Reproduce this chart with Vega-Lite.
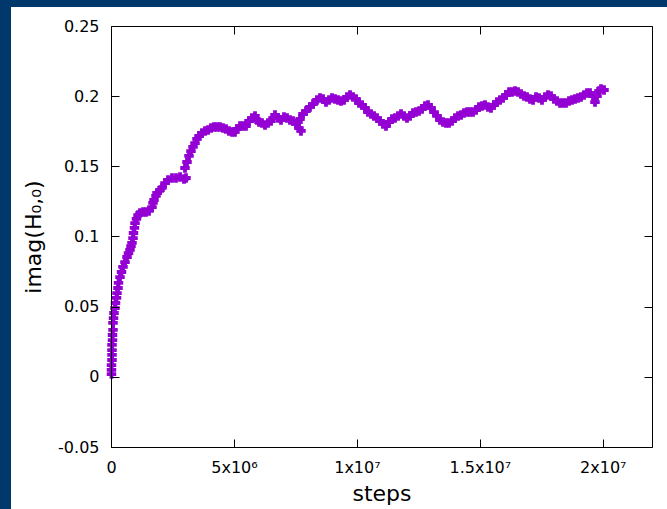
{
  "$schema": "https://vega.github.io/schema/vega-lite/v6.json",
  "width": 541,
  "height": 421,
  "autosize": {"type": "none"},
  "padding": {"left": 111, "top": 26, "right": 15, "bottom": 62},
  "background": "#00386b",
  "config": {
    "view": {"stroke": null},
    "axis": {
      "zindex": 1,
      "grid": false,
      "labelFlush": false,
      "domainColor": "black",
      "domainWidth": 1,
      "tickColor": "black",
      "tickWidth": 1,
      "tickSize": -8,
      "labelColor": "black",
      "titleColor": "black",
      "labelFont": "DejaVu Sans",
      "titleFont": "DejaVu Sans",
      "labelFontSize": 16,
      "titleFontSize": 22,
      "titleFontWeight": "normal"
    }
  },
  "data": {
    "values": [
      {"s": 20000, "v": 0.0020}, {"s": 20000, "v": 0.0049}, {"s": 20000, "v": 0.0084},
      {"s": 41000, "v": 0.0120}, {"s": 41000, "v": 0.0156}, {"s": 41000, "v": 0.0191},
      {"s": 41000, "v": 0.0227}, {"s": 61000, "v": 0.0262}, {"s": 61000, "v": 0.0298},
      {"s": 81000, "v": 0.0334}, {"s": 81000, "v": 0.0384}, {"s": 102000, "v": 0.0419},
      {"s": 122000, "v": 0.0455}, {"s": 163000, "v": 0.0490}, {"s": 183000, "v": 0.0526},
      {"s": 224000, "v": 0.0562}, {"s": 244000, "v": 0.0597}, {"s": 285000, "v": 0.0633},
      {"s": 305000, "v": 0.0669}, {"s": 366000, "v": 0.0711}, {"s": 427000, "v": 0.0747},
      {"s": 488000, "v": 0.0783}, {"s": 569000, "v": 0.0818}, {"s": 651000, "v": 0.0854},
      {"s": 712000, "v": 0.0882}, {"s": 773000, "v": 0.0904}, {"s": 813000, "v": 0.0932},
      {"s": 854000, "v": 0.0954}, {"s": 895000, "v": 0.0989}, {"s": 915000, "v": 0.1025},
      {"s": 956000, "v": 0.1061}, {"s": 976000, "v": 0.1096}, {"s": 1037000, "v": 0.1125},
      {"s": 1098000, "v": 0.1153}, {"s": 1179000, "v": 0.1167}, {"s": 1301000, "v": 0.1175},
      {"s": 1423000, "v": 0.1175}, {"s": 1545000, "v": 0.1182}, {"s": 1667000, "v": 0.1210},
      {"s": 1708000, "v": 0.1239}, {"s": 1749000, "v": 0.1260}, {"s": 1830000, "v": 0.1289},
      {"s": 1871000, "v": 0.1310}, {"s": 1993000, "v": 0.1331}, {"s": 2074000, "v": 0.1346},
      {"s": 2196000, "v": 0.1381}, {"s": 2318000, "v": 0.1403}, {"s": 2481000, "v": 0.1417},
      {"s": 2643000, "v": 0.1417}, {"s": 2806000, "v": 0.1424}, {"s": 2969000, "v": 0.1410},
      {"s": 3050000, "v": 0.1417}, {"s": 3009000, "v": 0.1488}, {"s": 3091000, "v": 0.1531},
      {"s": 3172000, "v": 0.1574}, {"s": 3253000, "v": 0.1609}, {"s": 3335000, "v": 0.1638},
      {"s": 3416000, "v": 0.1666}, {"s": 3497000, "v": 0.1695}, {"s": 3579000, "v": 0.1716},
      {"s": 3701000, "v": 0.1738}, {"s": 3823000, "v": 0.1752}, {"s": 3945000, "v": 0.1759},
      {"s": 4067000, "v": 0.1773}, {"s": 4188000, "v": 0.1780}, {"s": 4310000, "v": 0.1780},
      {"s": 4432000, "v": 0.1780}, {"s": 4554000, "v": 0.1773}, {"s": 4676000, "v": 0.1766},
      {"s": 4798000, "v": 0.1752}, {"s": 4920000, "v": 0.1745}, {"s": 5042000, "v": 0.1745},
      {"s": 5124000, "v": 0.1766}, {"s": 5246000, "v": 0.1787}, {"s": 5368000, "v": 0.1787},
      {"s": 5490000, "v": 0.1787}, {"s": 5612000, "v": 0.1823}, {"s": 5734000, "v": 0.1844},
      {"s": 5856000, "v": 0.1859}, {"s": 5937000, "v": 0.1830}, {"s": 6018000, "v": 0.1816},
      {"s": 6140000, "v": 0.1809}, {"s": 6262000, "v": 0.1795}, {"s": 6384000, "v": 0.1809},
      {"s": 6506000, "v": 0.1823}, {"s": 6588000, "v": 0.1844}, {"s": 6669000, "v": 0.1866},
      {"s": 6791000, "v": 0.1844}, {"s": 6913000, "v": 0.1830}, {"s": 7035000, "v": 0.1851},
      {"s": 7157000, "v": 0.1844}, {"s": 7279000, "v": 0.1830}, {"s": 7401000, "v": 0.1823},
      {"s": 7523000, "v": 0.1802}, {"s": 7645000, "v": 0.1773}, {"s": 7726000, "v": 0.1752},
      {"s": 7604000, "v": 0.1816}, {"s": 7686000, "v": 0.1837}, {"s": 7808000, "v": 0.1873},
      {"s": 7930000, "v": 0.1894}, {"s": 8092000, "v": 0.1923}, {"s": 8214000, "v": 0.1944},
      {"s": 8377000, "v": 0.1973}, {"s": 8499000, "v": 0.1987}, {"s": 8621000, "v": 0.1980},
      {"s": 8743000, "v": 0.1958}, {"s": 8865000, "v": 0.1973}, {"s": 8987000, "v": 0.1987},
      {"s": 9109000, "v": 0.1980}, {"s": 9231000, "v": 0.1973}, {"s": 9353000, "v": 0.1966},
      {"s": 9475000, "v": 0.1973}, {"s": 9597000, "v": 0.1994}, {"s": 9719000, "v": 0.2008},
      {"s": 9841000, "v": 0.1994}, {"s": 9963000, "v": 0.1980}, {"s": 10085000, "v": 0.1951},
      {"s": 10207000, "v": 0.1937}, {"s": 10329000, "v": 0.1916}, {"s": 10451000, "v": 0.1887},
      {"s": 10573000, "v": 0.1873}, {"s": 10695000, "v": 0.1859}, {"s": 10817000, "v": 0.1844},
      {"s": 10939000, "v": 0.1823}, {"s": 11061000, "v": 0.1802}, {"s": 11183000, "v": 0.1787},
      {"s": 11305000, "v": 0.1816}, {"s": 11427000, "v": 0.1837}, {"s": 11549000, "v": 0.1844},
      {"s": 11671000, "v": 0.1859}, {"s": 11793000, "v": 0.1873}, {"s": 11915000, "v": 0.1859},
      {"s": 12037000, "v": 0.1844}, {"s": 12159000, "v": 0.1859}, {"s": 12281000, "v": 0.1880},
      {"s": 12403000, "v": 0.1887}, {"s": 12525000, "v": 0.1894}, {"s": 12647000, "v": 0.1909},
      {"s": 12769000, "v": 0.1930}, {"s": 12891000, "v": 0.1937}, {"s": 13013000, "v": 0.1916},
      {"s": 13135000, "v": 0.1887}, {"s": 13257000, "v": 0.1859}, {"s": 13379000, "v": 0.1830},
      {"s": 13501000, "v": 0.1816}, {"s": 13623000, "v": 0.1809}, {"s": 13745000, "v": 0.1809},
      {"s": 13867000, "v": 0.1823}, {"s": 13989000, "v": 0.1844}, {"s": 14111000, "v": 0.1859},
      {"s": 14233000, "v": 0.1866}, {"s": 14355000, "v": 0.1880}, {"s": 14477000, "v": 0.1887},
      {"s": 14599000, "v": 0.1887}, {"s": 14721000, "v": 0.1887}, {"s": 14843000, "v": 0.1901},
      {"s": 14965000, "v": 0.1923}, {"s": 15087000, "v": 0.1930}, {"s": 15209000, "v": 0.1937},
      {"s": 15331000, "v": 0.1923}, {"s": 15453000, "v": 0.1916}, {"s": 15575000, "v": 0.1937},
      {"s": 15697000, "v": 0.1958}, {"s": 15819000, "v": 0.1973}, {"s": 15941000, "v": 0.1987},
      {"s": 16063000, "v": 0.2008}, {"s": 16185000, "v": 0.2030}, {"s": 16307000, "v": 0.2030},
      {"s": 16429000, "v": 0.2037}, {"s": 16551000, "v": 0.2030}, {"s": 16673000, "v": 0.2015},
      {"s": 16795000, "v": 0.2001}, {"s": 16917000, "v": 0.1994}, {"s": 17039000, "v": 0.1980},
      {"s": 17161000, "v": 0.1973}, {"s": 17283000, "v": 0.1994}, {"s": 17405000, "v": 0.1987},
      {"s": 17527000, "v": 0.1973}, {"s": 17649000, "v": 0.1994}, {"s": 17771000, "v": 0.2008},
      {"s": 17893000, "v": 0.2001}, {"s": 18015000, "v": 0.1980}, {"s": 18137000, "v": 0.1966},
      {"s": 18259000, "v": 0.1951}, {"s": 18381000, "v": 0.1951}, {"s": 18503000, "v": 0.1951},
      {"s": 18625000, "v": 0.1966}, {"s": 18747000, "v": 0.1973}, {"s": 18869000, "v": 0.1980},
      {"s": 18991000, "v": 0.1987}, {"s": 19113000, "v": 0.1994}, {"s": 19235000, "v": 0.2008},
      {"s": 19357000, "v": 0.2023}, {"s": 19479000, "v": 0.2023}, {"s": 19601000, "v": 0.2001},
      {"s": 19682000, "v": 0.1958}, {"s": 19763000, "v": 0.2001}, {"s": 19845000, "v": 0.2037},
      {"s": 19926000, "v": 0.2051}, {"s": 20048000, "v": 0.2044}
    ]
  },
  "layer": [
    {
      "data": {"values": [{}]},
      "mark": {"type": "rect", "fill": "white"},
      "encoding": {
        "x": {"datum": -4066000, "type": "quantitative", "scale": {"domain": [0, 22000000]},
              "axis": {"orient": "top", "zindex": 1, "labels": false, "title": null, "values": [0, 5000000, 10000000, 15000000, 20000000]}},
        "x2": {"datum": 30000000},
        "y": {"datum": 0.2635, "type": "quantitative", "scale": {"domain": [-0.05, 0.25]},
              "axis": {"orient": "right", "zindex": 1, "labels": false, "title": null, "values": [-0.05, 0, 0.05, 0.1, 0.15, 0.2, 0.25]}},
        "y2": {"datum": -0.3}
      }
    },
    {
      "mark": {"type": "point", "shape": "cross", "filled": true, "color": "#9400d3", "size": 90, "opacity": 1},
      "encoding": {
        "x": {"field": "s", "type": "quantitative", "scale": {"domain": [0, 22000000]},
              "axis": {"orient": "bottom", "zindex": 1, "title": "steps", "values": [0, 5000000, 10000000, 15000000, 20000000], "labelPadding": 20, "titlePadding": 8,
                       "labelExpr": "datum.value == 0 ? '0' : datum.value == 5000000 ? '5x10⁶' : datum.value == 10000000 ? '1x10⁷' : datum.value == 15000000 ? '1.5x10⁷' : '2x10⁷'"}},
        "y": {"field": "v", "type": "quantitative", "scale": {"domain": [-0.05, 0.25]},
              "axis": {"orient": "left", "zindex": 1, "title": "imag(H₀,₀)", "values": [-0.05, 0, 0.05, 0.1, 0.15, 0.2, 0.25], "labelPadding": 20, "titlePadding": 12,
                       "labelExpr": "'' + datum.value"}}
      }
    }
  ],
  "resolve": {"axis": {"x": "independent", "y": "independent"}}
}
